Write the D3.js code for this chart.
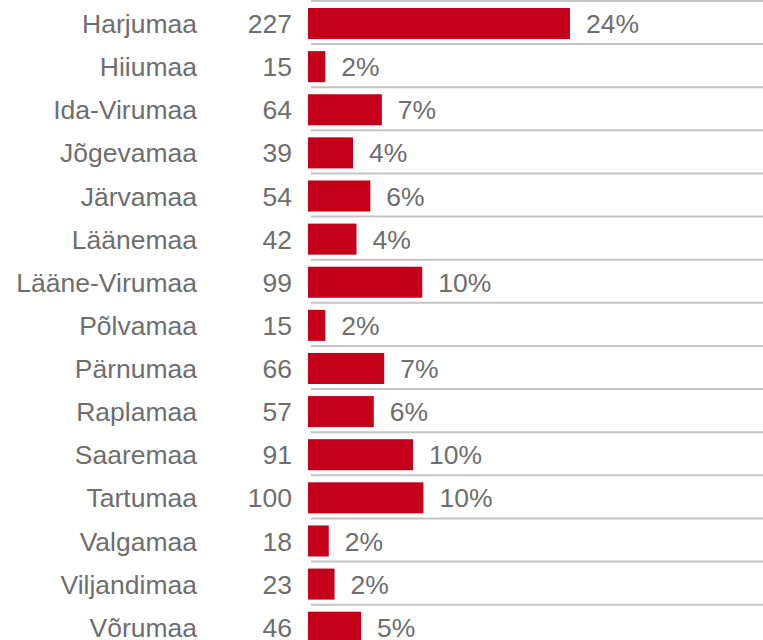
<!DOCTYPE html>
<html>
<head>
<meta charset="utf-8">
<script src="https://cdn.jsdelivr.net/npm/d3@7"></script>
<style>
  body { margin: 0; background: #fff; }
  text { font-family: "Liberation Sans", Arial, sans-serif; fill: #6e6e6e; }
</style>
</head>
<body>
<div id="chart"></div>
<script>
const counties = ["Harjumaa", "Hiiumaa", "Ida-Virumaa", "Jõgevamaa", "Järvamaa", "Läänemaa",
  "Lääne-Virumaa", "Põlvamaa", "Pärnumaa", "Raplamaa", "Saaremaa", "Tartumaa",
  "Valgamaa", "Viljandimaa", "Võrumaa"];
const counts = [227, 15, 64, 39, 54, 42, 99, 15, 66, 57, 91, 100, 18, 23, 46];
const shares = ["24%", "2%", "7%", "4%", "6%", "4%", "10%", "2%", "7%", "6%", "10%", "10%", "2%", "2%", "5%"];

const width = 763,
  height = 640,
  barLeft = 308,
  gridLeft = 311,
  labelRight = 197,
  countRight = 292,
  step = 43.12,
  rowsTop = 1.96,
  fontSize = 26.5,
  barColor = "#C5001A",
  gridColor = "#c4c4c4";

const data = counties.map((c, i) => ({ name: c, count: counts[i], share: shares[i] }));

const x = d3.scaleLinear()
  .domain([0, d3.max(counts)])
  .range([barLeft, 570]);

const y = d3.scaleBand()
  .domain(counties)
  .range([rowsTop, rowsTop + step * counties.length])
  .paddingInner(0.28)
  .paddingOuter(0.14);

const gridGap = 7;

const svg = d3.select("#chart")
  .append("svg")
  .attr("width", width)
  .attr("height", height);

// row separators
svg.selectAll(".grid")
  .data(data)
  .enter()
  .append("line")
  .attr("class", "grid")
  .attr("x1", gridLeft)
  .attr("x2", width)
  .attr("y1", d => y(d.name) - gridGap)
  .attr("y2", d => y(d.name) - gridGap)
  .attr("stroke", gridColor)
  .attr("stroke-width", 2);

svg.selectAll(".bar")
  .data(data)
  .enter()
  .append("rect")
  .attr("class", "bar")
  .attr("x", x(0))
  .attr("y", d => y(d.name))
  .attr("width", d => x(d.count) - x(0))
  .attr("height", y.bandwidth())
  .style("fill", barColor);

const mid = d => y(d.name) + y.bandwidth() / 2;

svg.selectAll(".label")
  .data(data)
  .enter()
  .append("text")
  .attr("class", "label")
  .attr("x", labelRight)
  .attr("y", mid)
  .attr("dy", "0.36em")
  .attr("text-anchor", "end")
  .style("font-size", fontSize + "px")
  .text(d => d.name);

svg.selectAll(".count")
  .data(data)
  .enter()
  .append("text")
  .attr("class", "count")
  .attr("x", countRight)
  .attr("y", mid)
  .attr("dy", "0.36em")
  .attr("text-anchor", "end")
  .style("font-size", fontSize + "px")
  .text(d => d.count);

svg.selectAll(".share")
  .data(data)
  .enter()
  .append("text")
  .attr("class", "share")
  .attr("x", d => x(d.count) + 16)
  .attr("y", mid)
  .attr("dy", "0.36em")
  .style("font-size", fontSize + "px")
  .text(d => d.share);
</script>
</body>
</html>
